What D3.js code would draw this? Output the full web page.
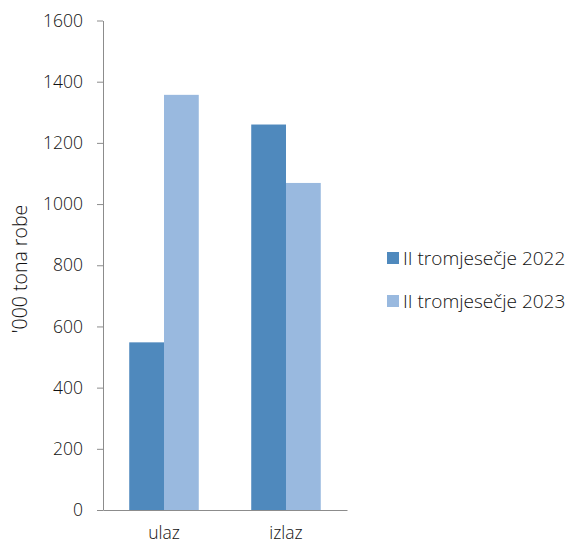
<!DOCTYPE html>
<html>
<head>
<meta charset="utf-8">
<script src="https://cdn.jsdelivr.net/npm/d3@7"></script>
<style>
  body { margin: 0; background: #fff; }
  svg text { font-family: "Open Sans", "Noto Sans", sans-serif; font-weight: 300; fill: #111; }
</style>
</head>
<body>
<div id="chart"></div>
<script>
// data
const categories = ['ulaz', 'izlaz']
const seriesNames = ['II tromjesečje 2022', 'II tromjesečje 2023']
const values2022 = [548, 1260]
const values2023 = [1357, 1069]
const yTicks = [0, 200, 400, 600, 800, 1000, 1200, 1400, 1600]
const colors = ['#4f89bd', '#99b9df']

const width = 571, height = 546
const margin = { top: 20.5, left: 103, right: 224, bottom: 36 }
const innerW = width - margin.left - margin.right
const innerH = height - margin.top - margin.bottom
const fs = '17.5px'

const svg = d3.select('#chart')
    .append('svg')
    .attr('width', width)
    .attr('height', height)

const g = svg.append('g')
    .attr('transform', `translate(${margin.left}, ${margin.top})`)

// scales
const x0 = d3.scaleBand()
    .domain(categories)
    .range([0, innerW])
    .paddingInner(0.43)
    .paddingOuter(0.215)
const x1 = d3.scaleBand()
    .domain(seriesNames)
    .range([0, x0.bandwidth()])
const y = d3.scaleLinear()
    .domain([0, 1600])
    .range([innerH, 0])

const rows = categories.map((c, i) => ({ cat: c, vals: [values2022[i], values2023[i]] }))

// bars
const groups = g.selectAll('.grp')
    .data(rows)
    .enter()
    .append('g')
    .attr('transform', d => `translate(${x0(d.cat)}, 0)`)

groups.selectAll('rect')
    .data(d => d.vals.map((v, k) => ({ name: seriesNames[k], v, k })))
    .enter()
    .append('rect')
    .attr('x', d => x1(d.name))
    .attr('y', d => y(d.v))
    .attr('width', x1.bandwidth())
    .attr('height', d => innerH - y(d.v))
    .attr('fill', d => colors[d.k])

// y axis
const yAxis = d3.axisLeft(y)
    .tickValues(yTicks)
    .tickFormat(d3.format('d'))
    .tickSizeInner(6)
    .tickSizeOuter(0)
    .tickPadding(14)
const ax = g.append('g').call(yAxis)
ax.select('.domain').attr('stroke', '#8c8c8c')
ax.selectAll('.tick line').attr('stroke', '#8c8c8c')
ax.selectAll('text').attr('font-size', fs).attr('font-family', null)

// x axis line (no ticks)
const xAxis = d3.axisBottom(x0)
    .tickSize(0)
    .tickPadding(14)
const bx = g.append('g')
    .attr('transform', `translate(0, ${innerH})`)
    .call(xAxis)
bx.select('.domain').attr('stroke', '#8c8c8c')
bx.selectAll('text').attr('font-size', fs).attr('font-family', null).attr('dy', '0.85em')

// y title
svg.append('text')
    .attr('transform', `translate(27, 269) rotate(-90)`)
    .attr('text-anchor', 'middle')
    .attr('font-size', '19.5px')
    .text("'000 tona robe")

// legend
const legend = svg.append('g')
    .attr('transform', 'translate(387, 252)')
const items = legend.selectAll('g')
    .data(seriesNames)
    .enter()
    .append('g')
    .attr('transform', (d, i) => `translate(0, ${i * 43})`)
items.append('rect')
    .attr('width', 12)
    .attr('height', 12)
    .attr('fill', (d, i) => colors[i])
items.append('text')
    .attr('x', 16)
    .attr('y', 6)
    .attr('dy', '0.35em')
    .attr('font-size', '19px')
    .text(d => d)
</script>
</body>
</html>
